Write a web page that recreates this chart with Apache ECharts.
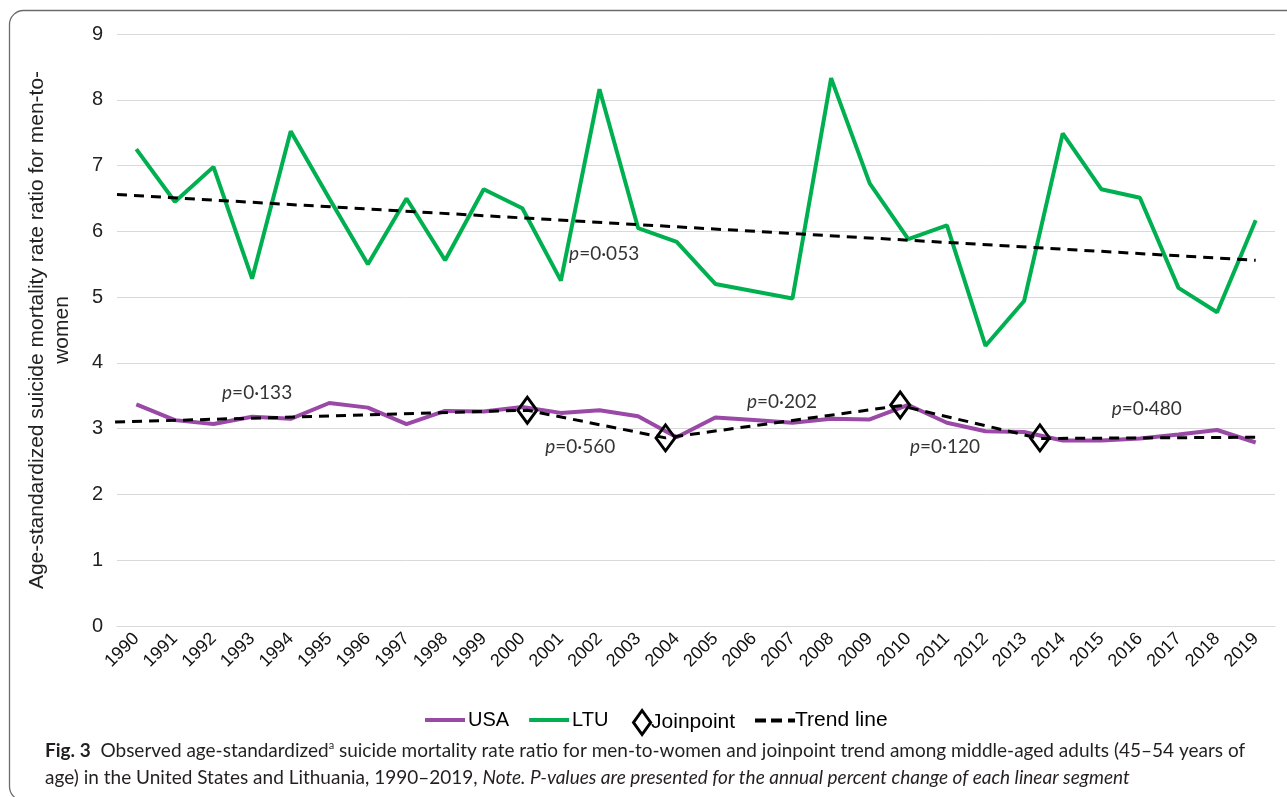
<!DOCTYPE html>
<html>
<head>
<meta charset="utf-8">
<script src="https://cdn.jsdelivr.net/npm/echarts@6/dist/echarts.min.js"></script>
<style>html,body{margin:0;padding:0;background:#fff;}#c{width:1287px;height:797px;}</style>
</head>
<body>
<div id="c"></div>
<script>
const years = ['1990','1991','1992','1993','1994','1995','1996','1997','1998','1999','2000','2001','2002','2003','2004','2005','2006','2007','2008','2009','2010','2011','2012','2013','2014','2015','2016','2017','2018','2019'];
const usa = [3.37,3.13,3.07,3.18,3.15,3.39,3.32,3.07,3.27,3.26,3.33,3.24,3.28,3.19,2.87,3.17,3.13,3.09,3.15,3.14,3.36,3.09,2.96,2.95,2.82,2.82,2.85,2.91,2.98,2.79];
const ltu = [7.25,6.45,6.98,5.28,7.52,6.50,5.50,6.50,5.56,6.64,6.35,5.25,8.16,6.05,5.84,5.20,5.09,4.98,8.33,6.73,5.88,6.09,4.26,4.94,7.49,6.64,6.51,5.14,4.77,6.17];
// trend lines (x in category-index units)
const ltuTrendX = [-0.5, 29];
const ltuTrendY = [6.56, 5.56];
const usaTrendX = [-0.55, 10.13, 13.71, 19.79, 23.41, 29];
const usaTrendY = [3.10, 3.28, 2.86, 3.35, 2.85, 2.87];
// joinpoints
const jpX = [10.13, 13.71, 19.79, 23.41];
const jpY = [3.28, 2.86, 3.36, 2.86];
// p-value annotations
const pText = ['0·133','0·560','0·053','0·202','0·120','0·480'];
const pX = [3.13, 11.5, 12.12, 16.73, 20.95, 26.18];
const pY = [3.54, 2.72, 5.66, 3.40, 2.72, 3.30];
const yTicks = [0, 9, 1];

const zip = (xs, ys) => xs.map((x, i) => [x, ys[i]]);
const chart = echarts.init(document.getElementById('c'), null, {renderer: 'canvas'});
const AX = 'Liberation Sans, Arial, sans-serif';
const CAP = 'Lato, "Open Sans", sans-serif';

chart.setOption({
  animation: false,
  backgroundColor: '#fff',
  grid: {left: 117, right: 12, top: 34, bottom: 171, containLabel: false},
  xAxis: [
    {type: 'category', data: years, boundaryGap: true,
     axisLine: {show: true, lineStyle: {color: '#d9d9d9', width: 1}},
     axisTick: {show: false},
     axisLabel: {interval: 0, rotate: 45, fontSize: 18, fontFamily: AX, color: '#111', margin: 10},
     splitLine: {show: false}},
    {type: 'value', min: -0.5, max: 29.5, show: false}
  ],
  yAxis: {type: 'value', min: yTicks[0], max: yTicks[1], interval: yTicks[2],
    name: 'Age-standardized suicide mortality rate ratio for men-to-\nwomen',
    nameLocation: 'middle', nameRotate: 90, nameGap: 42,
    nameTextStyle: {fontSize: 21, fontFamily: AX, color: '#222', lineHeight: 25},
    axisLine: {show: false}, axisTick: {show: false},
    axisLabel: {fontSize: 20, fontFamily: AX, color: '#222', margin: 14},
    splitLine: {lineStyle: {color: '#d9d9d9', width: 1}}
  },
  legend: [
    {data: [{name: 'USA', icon: 'rect'}, {name: 'LTU', icon: 'rect'}],
     left: 420, top: 705, itemWidth: 40, itemHeight: 4, itemGap: 20,
     textStyle: {fontSize: 20, fontFamily: AX, color: '#000', padding: [0,0,0,-2]}},
    {data: [{name: 'Joinpoint', icon: 'path://M10,0L20,14L10,28L0,14Z'}],
     left: 627, top: 704, itemWidth: 18, itemHeight: 24,
     itemStyle: {color: 'rgba(255,255,255,0)', borderColor: '#000', borderWidth: 3, opacity: 1},
     textStyle: {fontSize: 21, fontFamily: AX, color: '#000', padding: [0,0,0,-5]}},
    {data: [{name: 'Trend line', icon: 'path://M0,0h11v4h-11zM16,0h11v4h-11zM33,0h7v4h-7z'}],
     left: 750, top: 705, itemWidth: 40, itemHeight: 4,
     itemStyle: {color: '#000'},
     textStyle: {fontSize: 21, fontFamily: AX, color: '#000', padding: [0,0,0,-5]}}
  ],
  title: {
    left: 40, top: 732,
    text: '{b|Fig. 3}  Observed age-standardized{sup|a} suicide mortality rate ratio for men-to-women and joinpoint trend among middle-aged adults (45–54 years of\nage) in the United States and Lithuania, 1990–2019, {i|Note. P-values are presented for the annual percent change of each linear segment}',
    textStyle: {
      fontSize: 19, fontFamily: CAP, fontWeight: 'normal', color: '#231f20', lineHeight: 27,
      rich: {
        b: {fontSize: 19, fontFamily: CAP, fontWeight: 'bold', color: '#231f20', lineHeight: 27},
        sup: {fontSize: 11, fontFamily: CAP, color: '#231f20', padding: [0,0,11,0], lineHeight: 27},
        i: {fontSize: 19, fontFamily: CAP, fontStyle: 'italic', color: '#231f20', lineHeight: 27}
      }
    }
  },
  graphic: [
    {type: 'rect', shape: {x: 9.5, y: 10.5, width: 1400, height: 790, r: 14},
     style: {fill: 'none', stroke: '#6b6b6b', lineWidth: 1.3}, silent: true, z: -10}
  ],
  series: [
    {name: 'USA', type: 'line', data: usa, xAxisIndex: 0, showSymbol: false, symbol: 'none',
     lineStyle: {color: '#9a4aa6', width: 4}, itemStyle: {color: '#9a4aa6'}, z: 2},
    {name: 'LTU', type: 'line', data: ltu, xAxisIndex: 0, showSymbol: false, symbol: 'none',
     lineStyle: {color: '#00b050', width: 4}, itemStyle: {color: '#00b050'}, z: 2},
    {name: 'Trend line', type: 'line', data: zip(ltuTrendX, ltuTrendY), xAxisIndex: 1, symbol: 'none',
     lineStyle: {color: '#000', width: 3, type: [10, 7]}, itemStyle: {color: '#000'}, z: 3},
    {name: 'Trend line', type: 'line', data: zip(usaTrendX, usaTrendY), xAxisIndex: 1, symbol: 'none',
     lineStyle: {color: '#000', width: 3, type: [10, 7]}, itemStyle: {color: '#000'}, z: 3},
    {name: 'Joinpoint', type: 'scatter', data: zip(jpX, jpY), xAxisIndex: 1,
     symbol: 'diamond', symbolSize: [19, 26],
     itemStyle: {color: 'rgba(255,255,255,0)', borderColor: '#000', borderWidth: 3, opacity: 1}, z: 5},
    {name: 'pvals', type: 'scatter', xAxisIndex: 1, symbolSize: 0, silent: true,
     data: pX.map((x, i) => ({value: [x, pY[i]], t: pText[i]})),
     label: {show: true, position: 'inside', fontSize: 19, fontFamily: CAP, color: '#000',
       formatter: p => '{p|p}=' + p.data.t,
       rich: {p: {fontStyle: 'italic', fontSize: 19, fontFamily: CAP, color: '#000'}}}, z: 6}
  ]
});
</script>
</body>
</html>
